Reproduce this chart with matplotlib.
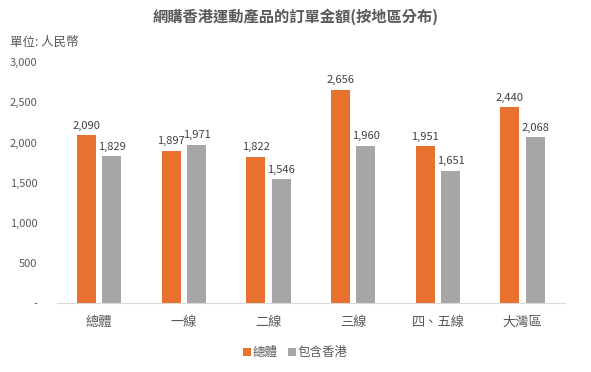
import matplotlib
matplotlib.use("Agg")
import matplotlib.pyplot as plt
import numpy as np

plt.rcParams['font.family'] = ['Noto Sans CJK TC', 'DejaVu Sans']

categories = ["總體", "一線", "二線", "三線", "四、五線", "大灣區"]
total = [2090, 1897, 1822, 2656, 1951, 2440]
hk = [1829, 1971, 1546, 1960, 1651, 2068]
series_names = ["總體", "包含香港"]
colors = ["#E8712F", "#A6A6A6"]
text_color = "#595959"

fig = plt.figure(figsize=(5.91, 3.72), dpi=100)
ax = fig.add_axes([0.096, 0.185, 0.860, 0.648])

x = np.arange(len(categories))
w = 0.225
off = 0.15
b1 = ax.bar(x - off, total, width=w, color=colors[0], label=series_names[0])
b2 = ax.bar(x + off, hk, width=w, color=colors[1], label=series_names[1])

for bars, vals in ((b1, total), (b2, hk)):
    for bar, v in zip(bars, vals):
        ax.text(bar.get_x() + bar.get_width() / 2, v + 55, f"{v:,}",
                ha="center", va="bottom", fontsize=8, color="#404040")

ax.set_xlim(-0.5, len(categories) - 0.5)
ax.set_ylim(0, 3000)
ax.set_yticks(range(0, 3001, 500))
ax.set_yticklabels(["-"] + [f"{v:,}" for v in range(500, 3001, 500)])
ax.set_xticks(x)
ax.set_xticklabels(categories)
ax.tick_params(axis="y", length=0, pad=14, labelsize=8, labelcolor=text_color)
ax.tick_params(axis="x", length=0, pad=9, labelsize=9.5, labelcolor=text_color)

for s in ["top", "right", "left"]:
    ax.spines[s].set_visible(False)
ax.spines["bottom"].set_color("#D9D9D9")

fig.text(0.5, 0.955, "網購香港運動產品的訂單金額(按地區分布)", ha="center", va="center",
         fontsize=11, color=text_color, fontweight="bold")
fig.text(0.017, 0.885, "單位: 人民幣", ha="left", va="center", fontsize=9, color=text_color)

fig.legend(loc="center", bbox_to_anchor=(0.5, 0.052), ncol=2, frameon=False,
           fontsize=9, handlelength=0.6, handleheight=0.6, handletextpad=0.2,
           columnspacing=0.8, labelcolor=text_color)

fig.savefig("out.png", dpi=100, facecolor="white")
